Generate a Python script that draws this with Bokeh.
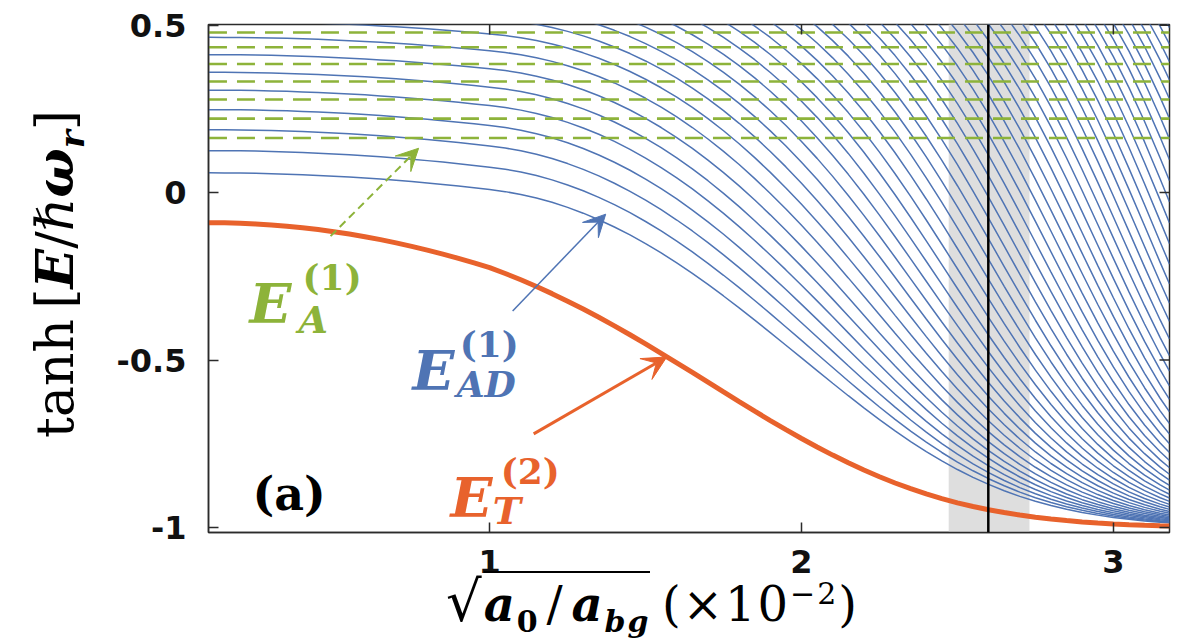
import numpy as np
from bokeh.plotting import figure
from bokeh.models import Range1d, FixedTicker, Label, Arrow, VeeHead, BoxAnnotation, Span, Div
from bokeh.layouts import row, column
from bokeh.embed import file_html
from bokeh.resources import INLINE

# ---------------- data ----------------
x_grid = [0.10, 0.15, 0.20, 0.25, 0.30, 0.35, 0.40, 0.45, 0.50, 0.55, 0.60, 0.65,
          0.70, 0.75, 0.80, 0.85, 0.90, 0.95, 1.00, 1.05, 1.10, 1.15, 1.20, 1.25,
          1.30, 1.35, 1.40, 1.45, 1.50, 1.55, 1.60, 1.65, 1.70, 1.75, 1.80, 1.85,
          1.90, 1.95, 2.00, 2.05, 2.10, 2.15, 2.20, 2.25, 2.30, 2.35, 2.40, 2.45,
          2.50, 2.55, 2.60, 2.65, 2.70, 2.75, 2.80, 2.85, 2.90, 2.95, 3.00, 3.05,
          3.10, 3.15, 3.18]
# downward shift of the atom-dimer branches (units of hbar*omega_r)
ad_shift = [0.0000, 0.0002, 0.0006, 0.0014, 0.0025, 0.0039, 0.0056, 0.0076, 0.0099, 0.0125,
            0.0154, 0.0187, 0.0222, 0.0261, 0.0302, 0.0347, 0.0395, 0.0446, 0.0500, 0.0561,
            0.0645, 0.0751, 0.0880, 0.1031, 0.1205, 0.1401, 0.1620, 0.1861, 0.2125, 0.2411,
            0.2720, 0.3051, 0.3405, 0.3781, 0.4180, 0.4601, 0.5045, 0.5511, 0.6000, 0.6514,
            0.7055, 0.7624, 0.8220, 0.8844, 0.9495, 1.0174, 1.0880, 1.1614, 1.2375, 1.3164,
            1.3980, 1.4824, 1.5695, 1.6594, 1.7520, 1.8474, 1.9455, 2.0464, 2.1500, 2.2564,
            2.3655, 2.4774, 2.5458]
# E_AD^(1) levels at the left edge (units of hbar*omega_r)
ad_levels = [0.059, 0.126, 0.190, 0.253, 0.316, 0.376, 0.438, 0.502, 0.565, 0.628,
             0.691, 0.754, 0.817, 0.880, 0.943, 1.006, 1.069, 1.132, 1.195, 1.258,
             1.321, 1.384, 1.447, 1.510, 1.573, 1.636, 1.699, 1.762, 1.825, 1.888,
             1.951, 2.014, 2.077, 2.140, 2.203, 2.266, 2.329, 2.392, 2.455, 2.518,
             2.581, 2.644, 2.707, 2.770, 2.833, 2.896, 2.959, 3.022, 3.085, 3.148]
# E_A^(1) levels, tanh values (flat dashed lines)
a_levels = [0.163, 0.221, 0.278, 0.332, 0.384, 0.434, 0.478]
# E_T^(2) curve, tanh values on x_grid
t_val = [-0.0898, -0.0902, -0.0914, -0.0935, -0.0965, -0.1003, -0.1049, -0.1103, -0.1167,
         -0.1238, -0.1317, -0.1405, -0.1501, -0.1604, -0.1716, -0.1835, -0.1962, -0.2097,
         -0.2239, -0.2415, -0.2604, -0.2805, -0.3017, -0.3243, -0.3478, -0.3724, -0.3979,
         -0.4244, -0.4516, -0.4798, -0.5083, -0.5370, -0.5661, -0.5953, -0.6241, -0.6526,
         -0.6809, -0.7080, -0.7344, -0.7597, -0.7839, -0.8069, -0.8284, -0.8484, -0.8671,
         -0.8842, -0.8998, -0.9139, -0.9264, -0.9374, -0.9471, -0.9555, -0.9630, -0.9694,
         -0.9748, -0.9794, -0.9834, -0.9866, -0.9893, -0.9915, -0.9933, -0.9948, -0.9955]
band_lo, band_hi = 2.472, 2.731
marker_x = 2.599
x_ticks = [1, 2, 3]
y_ticks = [-1, -0.5, 0, 0.5]
y_tick_text = {-1: "-1", -0.5: "-0.5", 0: "0", 0.5: "0.5"}

BLUE = "#4f74b4"
GREEN = "#8db33a"
ORANGE = "#e8622c"
AXC = "#2b2b2b"

FW, FH = 961, 508
X0, X1 = 0.0985, 3.18
Y0, Y1 = -1.015, 0.502

p = figure(frame_width=FW, frame_height=FH, min_border_left=108, min_border_right=17,
           min_border_top=24, min_border_bottom=56,
           x_range=Range1d(X0, X1), y_range=Range1d(Y0, Y1),
           output_backend="svg", toolbar_location=None, background_fill_color="white",
           border_fill_color="white")
p.grid.visible = False
p.outline_line_color = AXC
p.outline_line_width = 1.5

for ax in (p.xaxis[0], p.yaxis[0]):
    ax.axis_line_color = AXC
    ax.axis_line_width = 1.5
    ax.major_tick_line_color = AXC
    ax.major_tick_line_width = 1.5
    ax.major_tick_in = 10
    ax.major_tick_out = 0
    ax.minor_tick_line_color = None
    ax.major_label_text_font = "DejaVu Sans"
    ax.major_label_text_font_style = "bold"
    ax.major_label_text_font_size = "32px"
    ax.major_label_text_color = "#111111"
p.xaxis.ticker = FixedTicker(ticks=x_ticks)
p.yaxis.ticker = FixedTicker(ticks=y_ticks)
p.yaxis.major_label_overrides = y_tick_text
p.xaxis.major_label_standoff = 17
p.yaxis.major_label_standoff = 22

# grey band
p.add_layout(BoxAnnotation(left=band_lo, right=band_hi, fill_color="#dedede", fill_alpha=1.0,
                           line_color=None, level="underlay"))

D = np.array(ad_shift)
xs = [x_grid for _ in ad_levels]
ys = [list(np.tanh(lv - D)) for lv in ad_levels]
p.multi_line(xs, ys, line_color=BLUE, line_width=1.5)

p.multi_line([[x_grid[0], x_grid[-1]] for _ in a_levels], [[v, v] for v in a_levels],
             line_color=GREEN, line_width=2.6, line_dash="18 10")

p.line(x_grid, t_val, line_color=ORANGE, line_width=5)

p.add_layout(Span(location=marker_x, dimension="height", line_color="black", line_width=2.5))

# mirrored inward ticks on the top and right edges of the box
tx = 10 * (X1 - X0) / FW
ty = 10 * (Y1 - Y0) / FH
p.segment(x0=x_ticks, y0=[Y1] * len(x_ticks), x1=x_ticks, y1=[Y1 - ty] * len(x_ticks),
          line_color=AXC, line_width=1.5)
p.segment(x0=[X1] * len(y_ticks), y0=y_ticks, x1=[X1 - tx] * len(y_ticks), y1=y_ticks,
          line_color=AXC, line_width=1.5)


def X(px):
    return 1 + (px - 489) / 311.7


def Y(py):
    return (191.4 - py) / 335.3


# arrows
p.add_layout(Arrow(end=VeeHead(size=22, fill_color=GREEN, line_color=GREEN),
                   x_start=X(330), y_start=Y(235), x_end=X(418), y_end=Y(147),
                   line_color=GREEN, line_width=2, line_dash="8 5"))
p.add_layout(Arrow(end=VeeHead(size=22, fill_color=BLUE, line_color=BLUE),
                   x_start=X(512), y_start=Y(310), x_end=X(605), y_end=Y(213),
                   line_color=BLUE, line_width=1.5))
p.add_layout(Arrow(end=VeeHead(size=24, fill_color=ORANGE, line_color=ORANGE),
                   x_start=X(533), y_start=Y(433), x_end=X(666), y_end=Y(356),
                   line_color=ORANGE, line_width=3))


def lab(px, py, text, color="black", size=40, style="normal", font="DejaVu Serif"):
    p.add_layout(Label(x=X(px), y=Y(py), text=text, text_color=color,
                       text_font_size=f"{size}px", text_font_style=style, text_font=font,
                       text_baseline="alphabetic", text_align="left"))


# (a)
lab(252, 493, "(a)", "black", 46, "bold")
# E_A^(1)
lab(249, 302, "E", GREEN, 55, "bold italic")
lab(302, 276, "(1)", GREEN, 36, "bold")
lab(298, 318, "A", GREEN, 38, "bold italic")
# E_AD^(1)
lab(412, 370, "E", BLUE, 55, "bold italic")
lab(459, 343, "(1)", BLUE, 36, "bold")
lab(456, 383, "AD", BLUE, 36, "bold italic")
# E_T^(2)
lab(450, 497, "E", ORANGE, 55, "bold italic")
lab(500, 470, "(2)", ORANGE, 36, "bold")
lab(492, 510, "T", ORANGE, 38, "bold italic")

# ---------------- axis titles as HTML text ----------------
ylab_html = (
    '<div style="width:100px;height:588px;display:flex;align-items:center;'
    'justify-content:flex-end;padding-bottom:40px;padding-right:8px;box-sizing:border-box;">'
    '<span style="writing-mode:vertical-rl;text-orientation:sideways;transform:rotate(180deg);'
    'font-family:\'DejaVu Serif\';font-size:52px;line-height:1.1;white-space:nowrap;color:#000;">'
    'tanh&#8201;[<b><i>E</i></b>/<i>&#8463;</i><b><i>&#969;</i></b>'
    '<sub style="font-size:34px;"><b><i>r</i></b></sub>]</span></div>'
)
ylab = Div(text=ylab_html, width=100, height=588, margin=0)

xlab_html = (
    '<div style="position:relative;width:1086px;height:55px;">'
    '<div style="position:absolute;left:346px;top:-14px;font-family:\'DejaVu Serif\';'
    'font-size:48px;line-height:1;white-space:nowrap;color:#000;letter-spacing:2px;">'
    '<span style="font-size:56px;">&#8730;</span>'
    '<span style="border-top:2px solid #000;padding-top:3px;">'
    '<b><i>a</i></b><sub style="font-size:30px;"><b>0</b></sub>&#8202;/&#8202;'
    '<b><i>a</i></b><sub style="font-size:30px;"><b><i>bg</i></b></sub></span>'
    '&#8201;(&#215;10<sup style="font-size:30px;">&#8722;2</sup>)</div></div>'
)
xlab = Div(text=xlab_html, width=1086, height=55, margin=0)

layout = row(ylab, column(p, xlab, spacing=0), spacing=0)

open("out.html", "w").write(file_html(layout, INLINE))
